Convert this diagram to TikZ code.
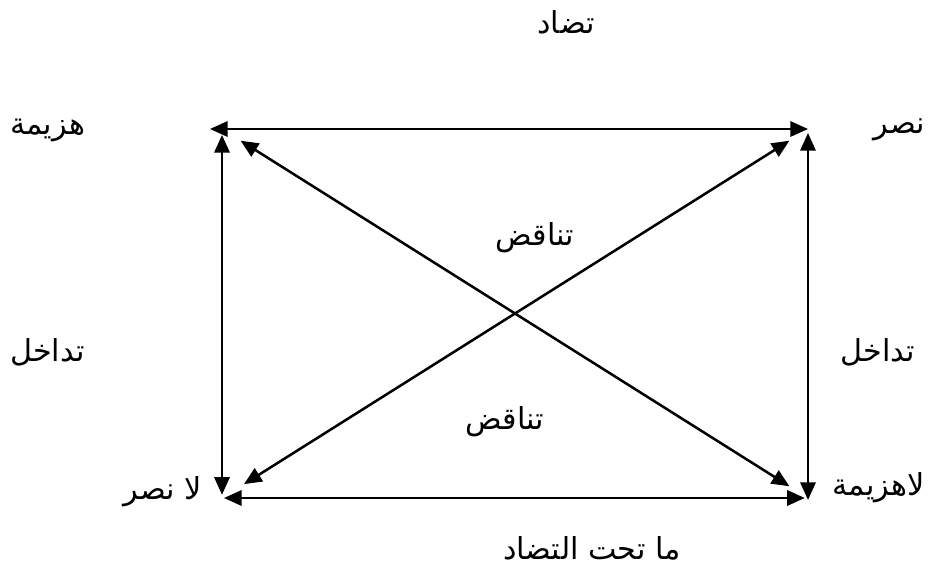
\documentclass[tikz,border=0pt]{standalone}
\usepackage{fontspec}
\TeXXeTstate=1
\newfontfamily\arabicfont[Script=Arabic]{DejaVu Sans}
\usetikzlibrary{arrows.meta}

\tikzset{
  word/.style={font=\arabicfont\fontsize{21.5}{25}\selectfont, inner sep=0pt},
  link/.style={line width=1.8pt, {Triangle[length=4.4mm,width=3.8mm]}-{Triangle[length=4.4mm,width=3.8mm]}}
}

\begin{document}
\begin{tikzpicture}[x=0.025cm, y=-0.025cm]
  \useasboundingbox (0,0) rectangle (929,569);

  % corners of the square
  \coordinate (tl) at (222,129);
  \coordinate (tr) at (808,129);
  \coordinate (bl) at (222,498);
  \coordinate (br) at (808,498);

  % terms
  \node[word] (contrary) at (566,22) {\beginR تضاد\endR};
  \node[word, anchor=west] (defeat) at (10,130) {\beginR هزيمة\endR};
  \node[word, anchor=east] (victory) at (925,130) {\beginR نصر\endR};
  \node[word, anchor=west] (implleft) at (10,352) {\beginR تداخل\endR};
  \node[word] (implright) at (878,352) {\beginR تداخل\endR};
  \node[word, anchor=east] (novictory) at (202,492) {\beginR لا نصر\endR};
  \node[word, anchor=east] (nodefeat) at (925,488) {\beginR لاهزيمة\endR};
  \node[word] (contraup) at (535,238) {\beginR تناقض\endR};
  \node[word] (contradown) at (505,422) {\beginR تناقض\endR};
  \node[word] (subcontrary) at (592,548) {\beginR ما تحت التضاد\endR};

  % relations
  \draw[link, shorten <=-0.3cm] (tl) -- (tr);
  \draw[link, shorten <=0.05cm, shorten >=0.08cm] (bl) -- (br);
  \draw[link, shorten <=0.08cm, shorten >=0.15cm] (bl) -- (tl);
  \draw[link, shorten <=-0.05cm, shorten >=0.1cm] (br) -- (tr);
  \draw[link, shorten <=0.55cm, shorten >=0.55cm] (tl) -- (br);
  \draw[link, shorten <=0.55cm, shorten >=0.65cm] (tr) -- (bl);
\end{tikzpicture}
\end{document}
